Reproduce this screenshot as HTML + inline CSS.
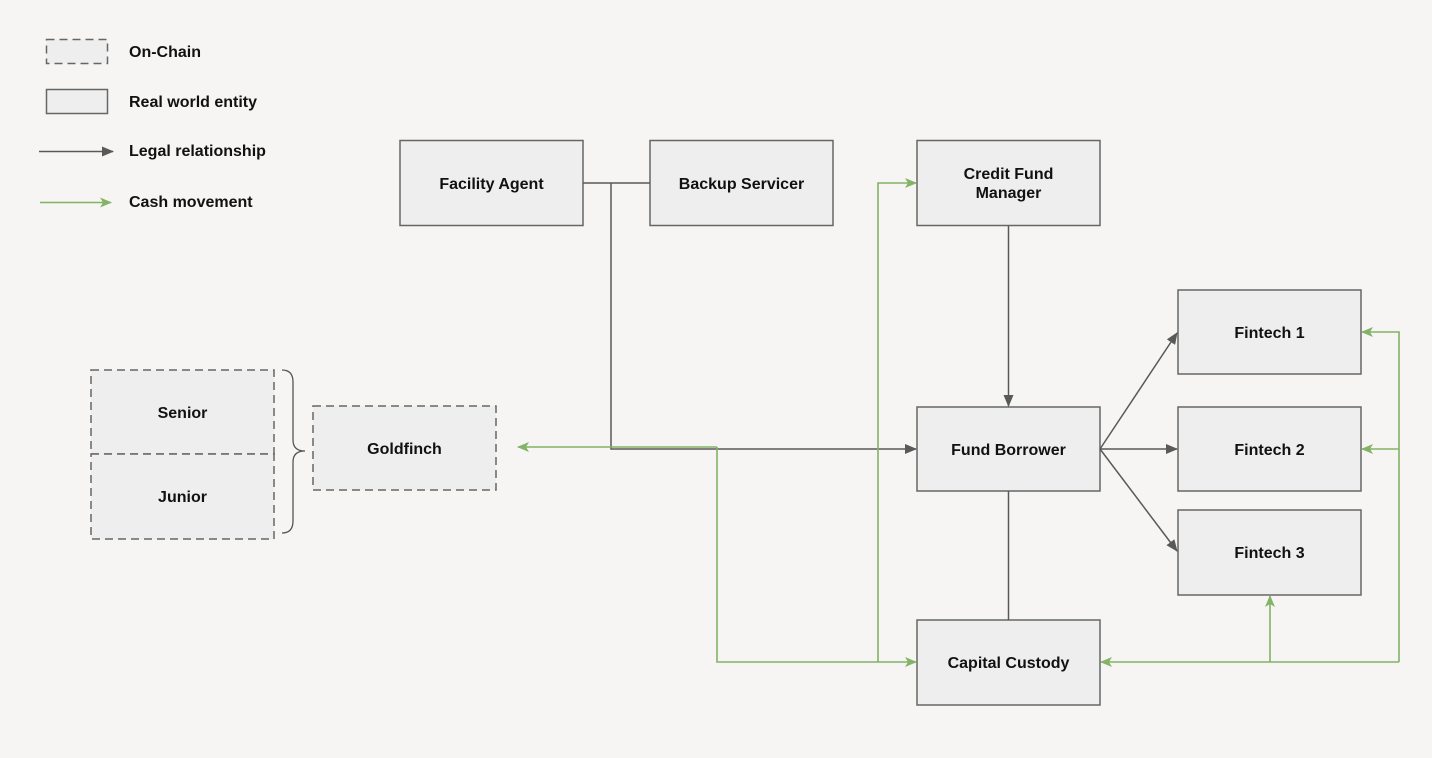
<!DOCTYPE html>
<html><head><style>
html,body{margin:0;padding:0;background:#f6f5f3;}
svg{display:block;}
text{font-family:"Liberation Sans",Arial,sans-serif;font-weight:bold;font-size:16px;fill:#111;}
</style></head><body>
<svg width="1432" height="758" viewBox="0 0 1432 758" xmlns="http://www.w3.org/2000/svg">
<defs>
<marker id="ab" markerWidth="12" markerHeight="10" refX="11" refY="5" orient="auto" markerUnits="userSpaceOnUse">
<path d="M0,0 L12,5 L0,10 z" fill="#595959"/></marker>
<marker id="ag" markerWidth="12" markerHeight="10" refX="11" refY="5" orient="auto" markerUnits="userSpaceOnUse">
<path d="M0,0 L12,5 L0,10 L3,5 z" fill="#82b366"/></marker>
</defs>
<rect width="1432" height="758" fill="#f6f5f3"/>
<!-- legend -->
<rect x="46.5" y="39.5" width="61" height="24" fill="#eeeeee" stroke="#666" stroke-width="1.5" stroke-dasharray="8,5"/>
<rect x="46.5" y="89.5" width="61" height="24" fill="#eeeeee" stroke="#666" stroke-width="1.5"/>
<line x1="39" y1="151.5" x2="113" y2="151.5" stroke="#595959" stroke-width="1.5" marker-end="url(#ab)"/>
<line x1="40" y1="202.5" x2="111" y2="202.5" stroke="#82b366" stroke-width="1.5" marker-end="url(#ag)"/>
<text x="129" y="57">On-Chain</text>
<text x="129" y="107">Real world entity</text>
<text x="129" y="156">Legal relationship</text>
<text x="129" y="207">Cash movement</text>
<g stroke="#666" stroke-width="1.5" fill="#eeeeee">
<rect x="400" y="140.5" width="183" height="85"/>
<rect x="650" y="140.5" width="183" height="85"/>
<rect x="917" y="140.5" width="183" height="85"/>
<rect x="917" y="407" width="183" height="84"/>
<rect x="917" y="620" width="183" height="85"/>
<rect x="1178" y="290" width="183" height="84"/>
<rect x="1178" y="407" width="183" height="84"/>
<rect x="1178" y="510" width="183" height="85"/>
</g>
<g stroke="#666" stroke-width="1.5" fill="#eeeeee" stroke-dasharray="8,5">
<rect x="313" y="406" width="183" height="84"/>
<rect x="91" y="370" width="183" height="84"/>
<rect x="91" y="454" width="183" height="85"/>
</g>
<path d="M282,370 Q293,370 293,382 L293,440 Q293,451 305,451 Q293,451 293,462 L293,521 Q293,533 282,533" fill="none" stroke="#555" stroke-width="1.3"/>
<g stroke="#595959" stroke-width="1.5" fill="none">
<line x1="583" y1="183" x2="650" y2="183"/>
<polyline points="611,183 611,449 916,449" marker-end="url(#ab)"/>
<line x1="1008.5" y1="226" x2="1008.5" y2="406" marker-end="url(#ab)"/>
<line x1="1008.5" y1="491" x2="1008.5" y2="620"/>
<line x1="1100" y1="449" x2="1177" y2="333" marker-end="url(#ab)"/>
<line x1="1100" y1="449" x2="1177" y2="449" marker-end="url(#ab)"/>
<line x1="1100" y1="449" x2="1177" y2="551" marker-end="url(#ab)"/>
</g>
<g stroke="#82b366" stroke-width="1.6" fill="none">
<polyline points="717,447 518,447" marker-end="url(#ag)"/>
<polyline points="717,447 717,662 916,662" marker-end="url(#ag)"/>
<polyline points="878,662 878,183 916,183" marker-end="url(#ag)"/>
<polyline points="1399,662 1101,662" marker-end="url(#ag)"/>
<polyline points="1270,662 1270,596" marker-end="url(#ag)"/>
<polyline points="1399,662 1399,332 1362,332" marker-end="url(#ag)"/>
<polyline points="1399,449 1362,449" marker-end="url(#ag)"/>
</g>
<g text-anchor="middle">
<text x="491.5" y="189">Facility Agent</text>
<text x="741.5" y="189">Backup Servicer</text>
<text x="1008.5" y="179">Credit Fund</text>
<text x="1008.5" y="198">Manager</text>
<text x="1008.5" y="455">Fund Borrower</text>
<text x="1008.5" y="668">Capital Custody</text>
<text x="1269.5" y="338">Fintech 1</text>
<text x="1269.5" y="455">Fintech 2</text>
<text x="1269.5" y="558">Fintech 3</text>
<text x="404.5" y="454">Goldfinch</text>
<text x="182.5" y="418">Senior</text>
<text x="182.5" y="502">Junior</text>
</g>
</svg>
</body></html>
